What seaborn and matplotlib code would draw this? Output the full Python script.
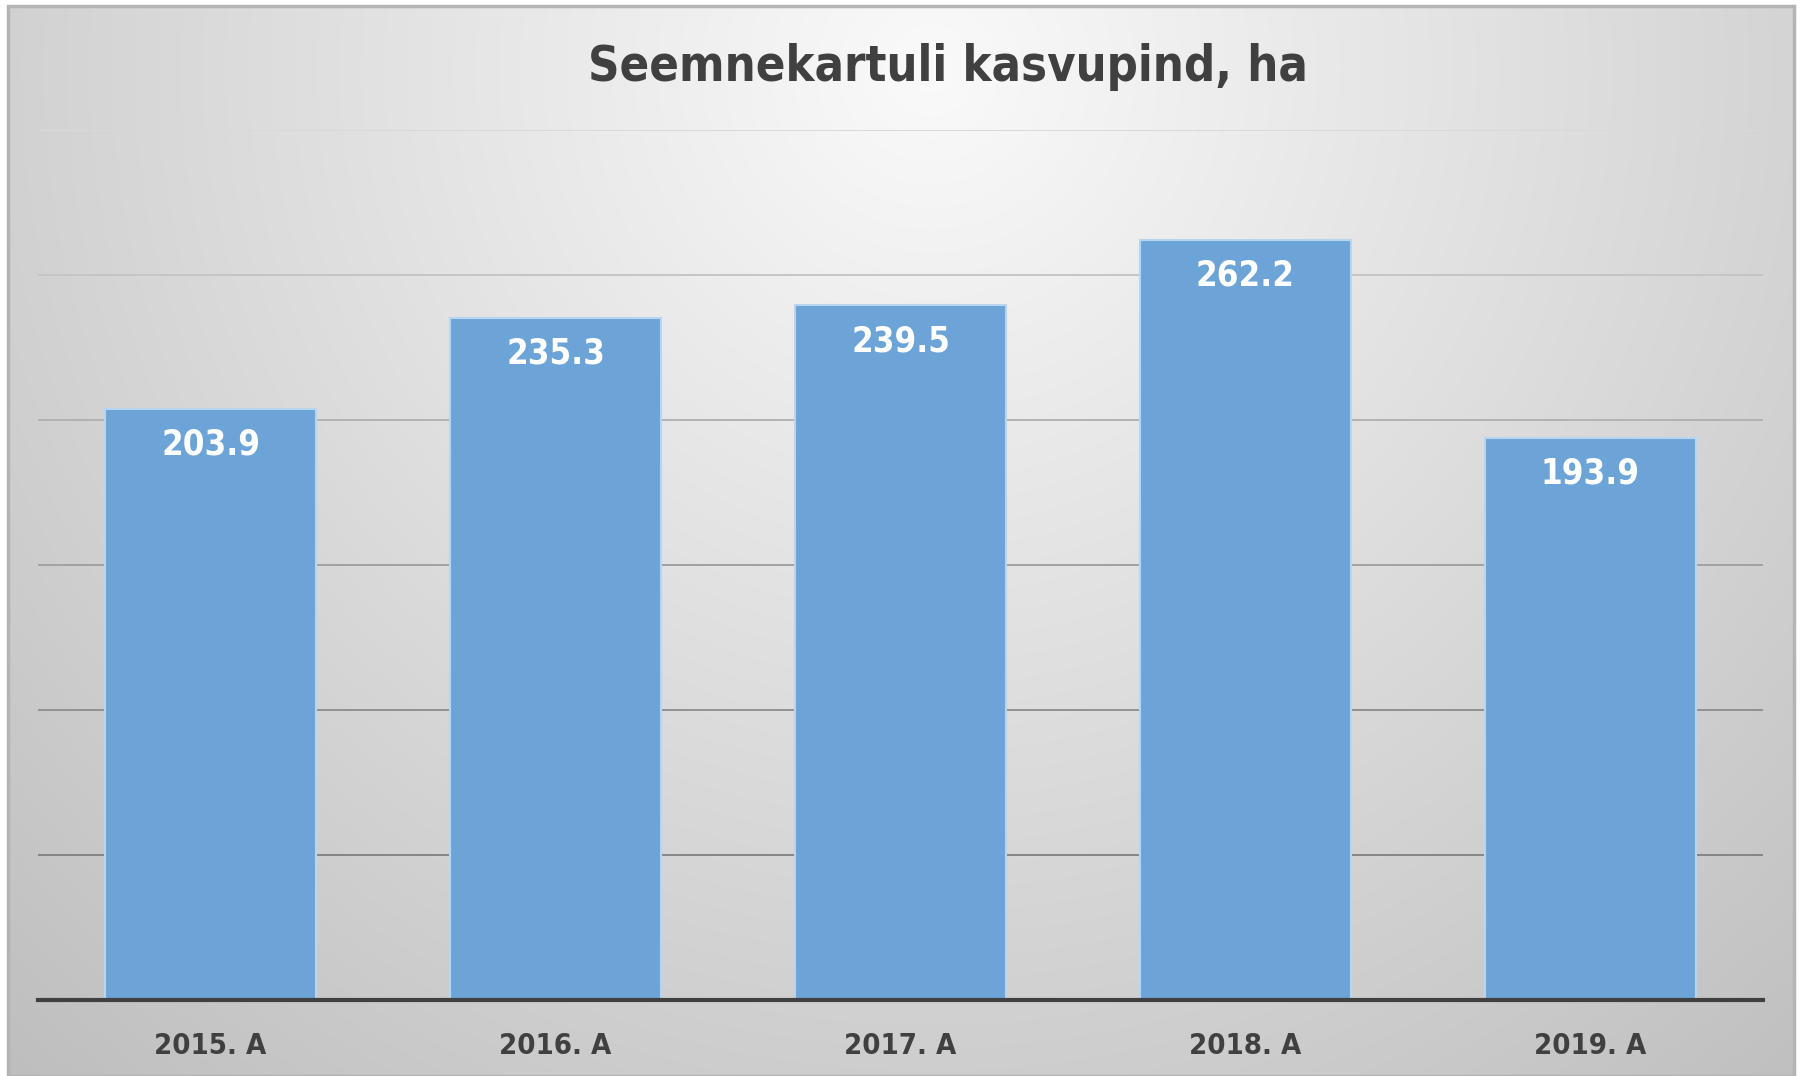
import numpy as np
import pandas as pd
import matplotlib
matplotlib.use("Agg")
import matplotlib.pyplot as plt
from matplotlib.patches import Rectangle
import seaborn as sns

# data
years = ["2015. A", "2016. A", "2017. A", "2018. A", "2019. A"]
area_ha = [203.9, 235.3, 239.5, 262.2, 193.9]
grid_ticks = [0, 50, 100, 150, 200, 250, 300]

TITLE = "Seemnekartuli kasvupind, ha"
BAR_COLOR = "#6ca4d7"
TEXT_COLOR = "#404040"
FONT = ["DejaVu Sans"]
STRETCH = "condensed"

#-----------------------------------------------------------------
# Function Name : DrawBackground
# Description   : grey radial gradient behind the chart + frame
#------------------------------------------------------------------
def DrawBackground(fig):
    W, H = 1803, 1076
    bg = fig.add_axes([0, 0, 1, 1], zorder=-10)
    yy, xx = np.mgrid[0:H, 0:W]
    d = np.sqrt((xx - 930) ** 2 + (yy - 70) ** 2) / 1000.0
    c = np.clip(250 - 44 * d, 190, 255) / 255.0
    # white strip outside the chart frame
    outside = (xx < 8) | (xx > 1794) | (yy < 6)
    c[outside] = 1.0
    img = np.dstack([c, c, c])
    bg.imshow(img, extent=[0, 1, 0, 1], aspect="auto", origin="upper")
    bg.add_patch(Rectangle((8 / W, 0), (1794 - 8) / W, 1 - 6 / H,
                           fill=False, edgecolor="#b4b4b4", lw=2.5,
                           transform=bg.transAxes))
    bg.set_xlim(0, 1)
    bg.set_ylim(0, 1)
    bg.axis("off")

#-----------------------------------------------------------------
# Function Name : DrawChart
# Description   : bars, value labels, grid and title
#------------------------------------------------------------------
def DrawChart():
    df = pd.DataFrame({"year": years, "area": area_ha})

    fig = plt.figure(figsize=(18.03, 10.76), dpi=100)
    DrawBackground(fig)

    ax = fig.add_axes([38 / 1803, 76 / 1076, 1725 / 1803, 870 / 1076])
    ax.patch.set_alpha(0)

    # gridlines fade from dark (bottom) to light (top)
    n = len(grid_ticks) - 1
    for k, t in enumerate(grid_ticks[1:], start=1):
        g = 0.52 + 0.33 * ((k - 1) / (n - 1)) ** 1.2
        ax.axhline(t, color=(g, g, g), lw=1.4, zorder=0)

    sns.barplot(data=df, x="year", y="area", color=BAR_COLOR, saturation=1,
                width=0.61, edgecolor="#b7d5f0", linewidth=1.5, ax=ax, zorder=3)

    for i, v in enumerate(area_ha):
        ax.annotate(f"{v:.1f}", xy=(i, v), xytext=(0, -26), textcoords="offset points",
                    ha="center", va="center", color="white", fontsize=25,
                    fontweight="bold", family=FONT, fontstretch=STRETCH, zorder=4)

    ax.set_xlim(-0.5, len(years) - 0.5)
    ax.set_ylim(grid_ticks[0], grid_ticks[-1])
    ax.set_yticks([])
    ax.tick_params(axis="x", bottom=False, pad=17)
    for lab in ax.get_xticklabels():
        lab.set_fontsize(21)
        lab.set_fontweight("bold")
        lab.set_color(TEXT_COLOR)
        lab.set_family(FONT)
        lab.set_fontstretch(STRETCH)
    ax.set_xlabel("")
    ax.set_ylabel("")
    for side in ["top", "left", "right"]:
        ax.spines[side].set_visible(False)
    ax.spines["bottom"].set_color(TEXT_COLOR)
    ax.spines["bottom"].set_linewidth(3)
    ax.spines["bottom"].set_zorder(5)

    fig.text(948 / 1803, 1 - 67 / 1076, TITLE, ha="center", va="center",
             fontsize=35, fontweight="bold", color=TEXT_COLOR, family=FONT,
             fontstretch=STRETCH)

    fig.savefig("out.png", dpi=100)

def main():
    sns.set_theme(style="white")
    DrawChart()

if __name__ == "__main__":
    main()
